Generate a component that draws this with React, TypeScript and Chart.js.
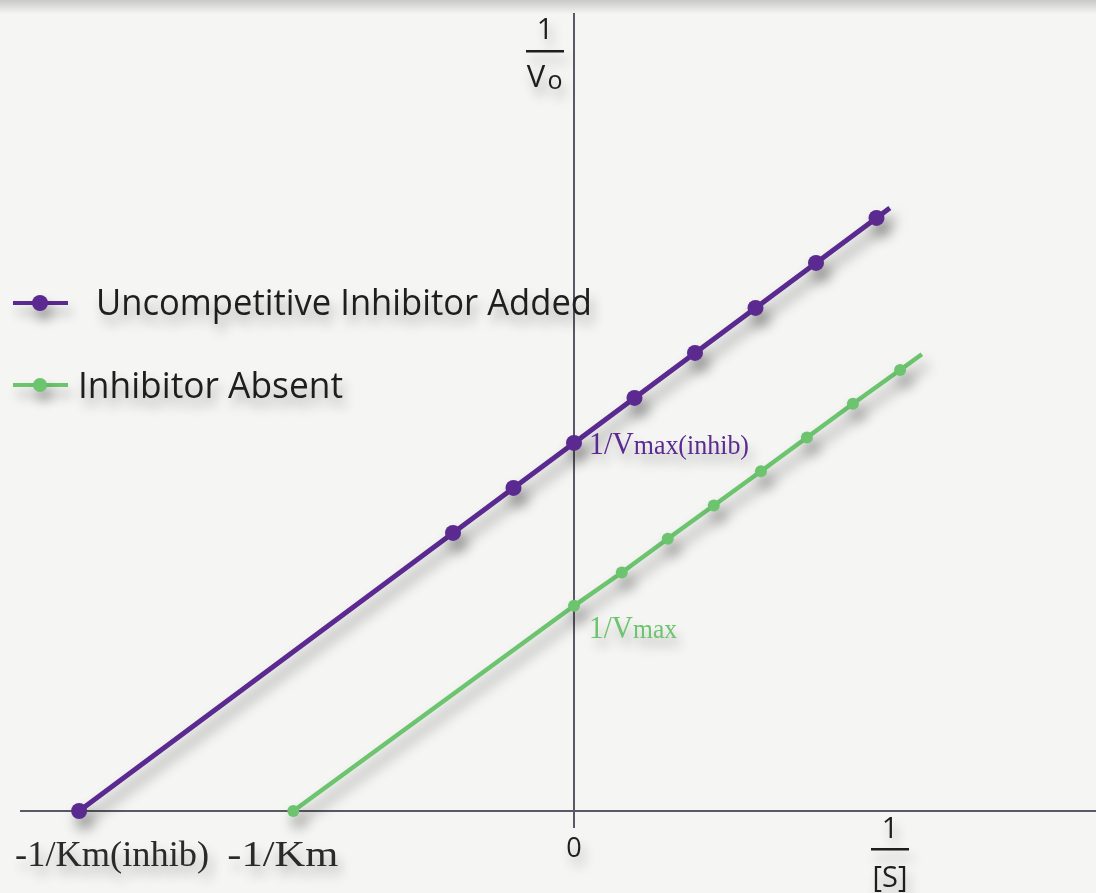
import { useEffect, useRef } from "react"
import { Chart, registerables } from "chart.js"

Chart.register(...registerables)

// 1/[S] and 1/Vo values (arbitrary units)
const inhibX = [-8.18, -2, -1, 0, 1, 2, 3, 4, 5, 5.22]
const inhibY = [0, 6.18, 7.18, 8.18, 9.18, 10.18, 11.18, 12.18, 13.18, 13.4]
const absentX = [-4.64, 0, 0.79, 1.55, 2.31, 3.09, 3.85, 4.61, 5.39, 5.75]
const absentY = [0, 4.56, 5.3, 6.05, 6.79, 7.55, 8.3, 9.05, 9.8, 10.15]

const seriesNames = ["Uncompetitive Inhibitor Added", "Inhibitor Absent"]
const xTickLabels = ["-1/Km(inhib)", "-1/Km", "0"]

const PURPLE = "#5b2a90"
const GREEN = "#6cc46e"
const AXIS = "#5a5a66"
const INK = "#1e1e1e"

const W = 1096
const H = 893

type Part = [string, string]

// draws text pieces in a row, squeezed or stretched to the given width
function fitParts(ctx: CanvasRenderingContext2D, parts: Part[], x: number, y: number, width: number) {
  let total = 0
  for (const [text, font] of parts) {
    ctx.font = font
    total += ctx.measureText(text).width
  }
  ctx.save()
  ctx.translate(x, y)
  ctx.scale(width / total, 1)
  let cx = 0
  for (const [text, font] of parts) {
    ctx.font = font
    ctx.fillText(text, cx, 0)
    cx += ctx.measureText(text).width
  }
  ctx.restore()
}

function shadow(ctx: CanvasRenderingContext2D, alpha: number, blur: number, dx: number, dy: number) {
  ctx.shadowColor = `rgba(0,0,0,${alpha})`
  ctx.shadowBlur = blur
  ctx.shadowOffsetX = dx
  ctx.shadowOffsetY = dy
}

const SERIF = "'Liberation Serif', serif"

const paperPlugin = {
  id: "paper",
  beforeDraw(chart: Chart) {
    const ctx = chart.ctx
    ctx.save()
    ctx.fillStyle = "#f5f5f4"
    ctx.fillRect(0, 0, W, H)
    const g = ctx.createLinearGradient(0, 0, 0, 14)
    g.addColorStop(0, "rgba(0,0,0,0.18)")
    g.addColorStop(1, "rgba(0,0,0,0)")
    ctx.fillStyle = g
    ctx.fillRect(0, 0, W, 14)
    ctx.restore()
  },
  beforeDatasetsDraw(chart: Chart) {
    const ctx = chart.ctx
    const x0 = chart.scales.x.getPixelForValue(0)
    const y0 = chart.scales.y.getPixelForValue(0)
    ctx.save()
    ctx.strokeStyle = AXIS
    ctx.lineWidth = 2
    ctx.beginPath()
    ctx.moveTo(20, y0)
    ctx.lineTo(W, y0)
    ctx.moveTo(x0, 13)
    ctx.lineTo(x0, y0 + 17)
    ctx.stroke()
    ctx.restore()
    // shadow under the lines, restored after the datasets
    ctx.save()
    shadow(ctx, 0.42, 14, 5, 10)
  },
  afterDatasetsDraw(chart: Chart) {
    const ctx = chart.ctx
    ctx.restore()
    const xs = chart.scales.x
    const ys = chart.scales.y
    const x0 = xs.getPixelForValue(0)
    const y0 = ys.getPixelForValue(0)

    ctx.save()
    shadow(ctx, 0.3, 12, 4, 9)
    ctx.textBaseline = "alphabetic"
    ctx.textAlign = "left"

    // intercept labels on the y axis
    ctx.fillStyle = PURPLE
    fitParts(ctx, [["1/V", `31px ${SERIF}`], ["max(inhib)", `27px ${SERIF}`]],
      x0 + 15, ys.getPixelForValue(inhibY[3]) + 11, 160)
    ctx.fillStyle = GREEN
    fitParts(ctx, [["1/V", `31px ${SERIF}`], ["max", `27px ${SERIF}`]],
      x0 + 15, ys.getPixelForValue(absentY[1]) + 32, 88)

    // x axis labels
    ctx.fillStyle = "#2a2a2a"
    fitParts(ctx, [[xTickLabels[0], `36px ${SERIF}`]], xs.getPixelForValue(inhibX[0]) - 64, y0 + 55, 194)
    fitParts(ctx, [[xTickLabels[1], `36px ${SERIF}`]], xs.getPixelForValue(absentX[0]) - 66, y0 + 55, 111)
    ctx.textAlign = "center"
    ctx.font = "27px 'Open Sans'"
    ctx.fillStyle = INK
    ctx.fillText(xTickLabels[2], x0, y0 + 46)

    // axis titles as fractions
    ctx.font = "29px 'Open Sans'"
    ctx.fillText("1", 545, 39)
    ctx.font = "31px 'Open Sans'"
    ctx.fillText("V", 536, 87)
    ctx.font = "25px 'Open Sans'"
    ctx.fillText("o", 555, 89)
    ctx.font = "29px 'Open Sans'"
    ctx.fillText("1", 890, y0 + 27)
    ctx.fillText("[S]", 890, H - 6)
    ctx.fillStyle = INK
    ctx.fillRect(526, 50, 38, 2.5)
    ctx.fillRect(871, y0 + 37, 38, 2.5)

    // legend
    ctx.textAlign = "left"
    const rows = [
      { color: PURPLE, y: 303, r: 8, tx: 96, base: 315, w: 496 },
      { color: GREEN, y: 385, r: 7, tx: 78, base: 398, w: 265 },
    ]
    rows.forEach((row, i) => {
      ctx.strokeStyle = row.color
      ctx.fillStyle = row.color
      ctx.lineWidth = 4
      ctx.beginPath()
      ctx.moveTo(13, row.y)
      ctx.lineTo(68, row.y)
      ctx.stroke()
      ctx.beginPath()
      ctx.arc(40, row.y, row.r, 0, Math.PI * 2)
      ctx.fill()
      ctx.fillStyle = INK
      fitParts(ctx, [[seriesNames[i], "37px 'Open Sans'"]], row.tx, row.base, row.w)
    })
    ctx.restore()
  },
}

export default function App() {
  const canvasRef = useRef<HTMLCanvasElement | null>(null)

  useEffect(() => {
    document.body.style.margin = "0"
    if (!canvasRef.current) return
    const chart = new Chart(canvasRef.current, {
      type: "scatter",
      data: {
        datasets: [
          {
            label: seriesNames[0],
            data: inhibX.map((x, i) => ({ x, y: inhibY[i] })),
            showLine: true,
            borderColor: PURPLE,
            backgroundColor: PURPLE,
            borderWidth: 5,
            pointRadius: inhibX.map((_, i) => (i === inhibX.length - 1 ? 0 : 8)),
            pointBorderWidth: 0,
          },
          {
            label: seriesNames[1],
            data: absentX.map((x, i) => ({ x, y: absentY[i] })),
            showLine: true,
            borderColor: GREEN,
            backgroundColor: GREEN,
            borderWidth: 4.5,
            pointRadius: absentX.map((_, i) => (i === absentX.length - 1 ? 0 : 6)),
            pointBorderWidth: 0,
          },
        ],
      },
      options: {
        responsive: false,
        animation: false,
        layout: { padding: 0, autoPadding: false },
        plugins: { legend: { display: false }, tooltip: { enabled: false } },
        scales: {
          x: { type: "linear", display: false, min: -574 / 60.5, max: (W - 574) / 60.5 },
          y: { type: "linear", display: false, min: -(H - 811) / 45, max: 811 / 45 },
        },
      },
      plugins: [paperPlugin],
    })
    return () => chart.destroy()
  }, [])

  return <canvas ref={canvasRef} width={W} height={H} style={{ display: "block" }} />
}
